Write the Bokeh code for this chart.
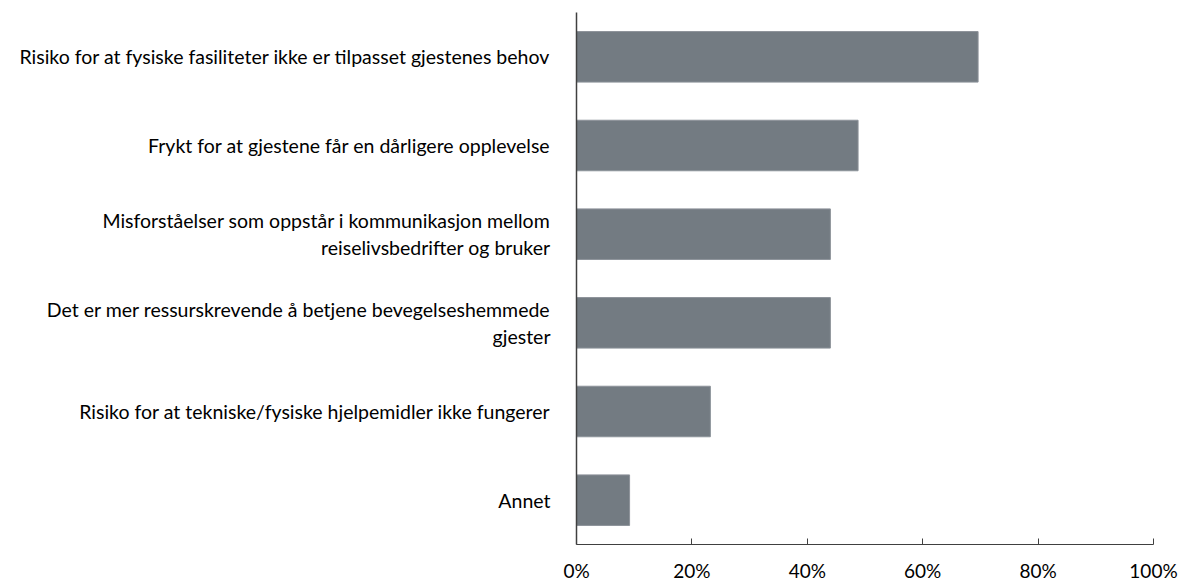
from bokeh.plotting import figure
from bokeh.models import NumeralTickFormatter, FixedTicker, Range1d, ColumnDataSource
from bokeh.embed import file_html
from bokeh.resources import INLINE

categories = [
    "Risiko for at fysiske fasiliteter ikke er tilpasset gjestenes behov",
    "Frykt for at gjestene får en dårligere opplevelse",
    "Misforståelser som oppstår i kommunikasjon mellom\nreiselivsbedrifter og bruker",
    "Det er mer ressurskrevende å betjene bevegelseshemmede\ngjester",
    "Risiko for at tekniske/fysiske hjelpemidler ikke fungerer",
    "Annet",
]
values = [0.696, 0.488, 0.440, 0.440, 0.232, 0.092]
x_ticks = [0, 0.2, 0.4, 0.6, 0.8, 1.0]

n = len(categories)
ypos = [n - i - 0.5 for i in range(n)]

W, H = 1180, 584
p = figure(width=W, height=H, output_backend="svg", toolbar_location=None,
           x_range=Range1d(0, 1), y_range=Range1d(0, n),
           min_border_left=576, min_border_right=W - 1153, min_border_top=12,
           min_border_bottom=H - 548)
p.outline_line_color = None
p.grid.visible = False
p.background_fill_color = "white"
p.border_fill_color = "white"

src = ColumnDataSource(dict(y=ypos, right=values))
p.hbar(y="y", left=0, right="right", height=0.57, source=src,
       fill_color="#737B82", line_color="#8C9299", line_width=1)

ya = p.yaxis[0]
ya.ticker = FixedTicker(ticks=ypos)
ya.major_label_overrides = {y: c for y, c in zip(ypos, categories)}
ya.major_tick_line_color = None
ya.minor_tick_line_color = None
ya.axis_line_color = "#404040"
ya.axis_line_width = 1.5
ya.major_label_standoff = 20
ya.major_label_text_font = "Lato"
ya.major_label_text_font_size = "19.5px"
ya.major_label_text_color = "#000000"
ya.major_label_text_line_height = 1.2

xa = p.xaxis[0]
xa.ticker = FixedTicker(ticks=x_ticks)
xa.formatter = NumeralTickFormatter(format="0%")
xa.major_tick_in = 6
xa.major_tick_out = 0
xa.minor_tick_line_color = None
xa.axis_line_color = "#404040"
xa.major_tick_line_color = "#404040"
xa.major_label_text_font = "Lato"
xa.major_label_text_font_size = "19px"
xa.major_label_text_color = "#000000"
xa.major_label_standoff = 14

open("out.html", "w").write(file_html(p, INLINE))
